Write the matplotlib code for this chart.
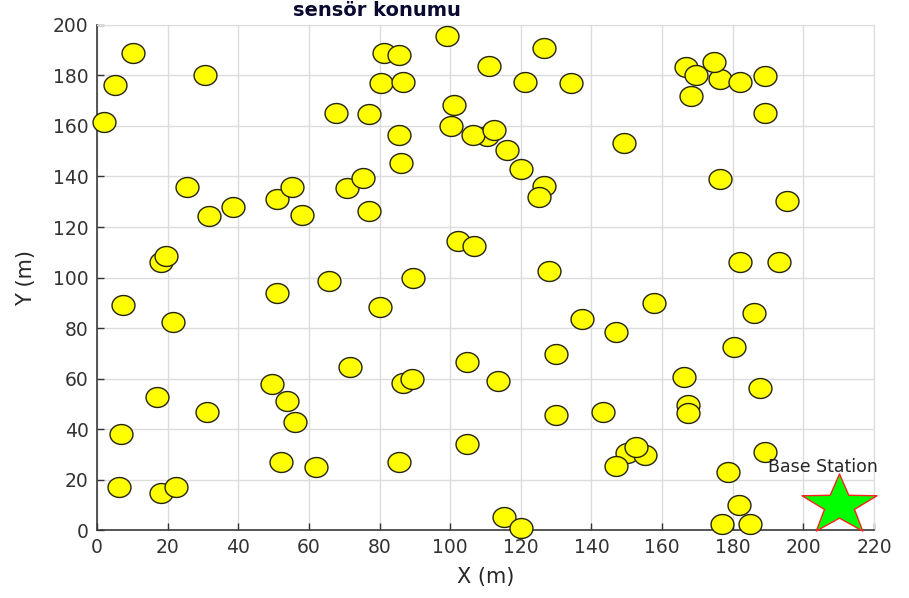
import numpy as np
import matplotlib
matplotlib.use('Agg')
import matplotlib.pyplot as plt
from matplotlib.path import Path

# sensor positions (m)
sensor_x = [2.1, 5.2, 10.3, 30.7, 25.6, 31.6, 38.6, 18.2, 19.4, 51.0,
            55.3, 58.0, 50.9, 65.6, 67.7, 70.7, 75.4, 76.9, 76.9, 81.4,
            85.6, 80.5, 86.6, 85.6, 86.0, 89.6, 99.2, 101.1, 100.3, 110.4,
            106.6, 112.5, 116.0, 120.0, 126.7, 125.1, 110.9, 121.1, 126.7, 134.3,
            149.1, 166.9, 169.6, 176.3, 174.8, 182.0, 189.1, 168.3, 189.1, 176.5,
            195.3, 102.3, 106.8, 128.1, 182.0, 193.1, 7.3, 21.4, 16.9, 31.2,
            6.7, 6.3, 18.0, 22.5, 80.0, 71.7, 49.5, 53.9, 56.1, 52.0,
            62.0, 85.6, 86.6, 89.1, 157.6, 137.3, 146.9, 185.9, 180.5, 104.9,
            113.4, 130.0, 166.3, 187.6, 130.0, 143.2, 167.2, 167.2, 104.9, 150.0,
            155.1, 152.5, 146.9, 189.1, 178.8, 181.9, 177.0, 185.0, 115.3, 120.0]
sensor_y = [161.6, 176.1, 189.0, 180.3, 136.0, 124.4, 127.8, 106.3, 108.6, 131.1,
            136.0, 124.8, 94.0, 98.6, 165.0, 135.3, 139.5, 164.6, 126.5, 189.0,
            188.1, 176.9, 177.4, 156.4, 145.2, 99.7, 195.6, 168.2, 160.0, 156.0,
            156.4, 158.4, 150.5, 142.8, 136.4, 131.8, 183.9, 177.4, 190.7, 176.9,
            153.4, 183.2, 180.1, 178.5, 185.2, 177.4, 179.8, 172.0, 165.0, 138.9,
            130.2, 114.6, 112.5, 102.7, 106.3, 106.3, 89.2, 82.2, 52.5, 46.6,
            38.0, 16.9, 14.5, 16.9, 88.2, 64.7, 57.7, 51.2, 42.6, 26.8,
            25.1, 26.8, 58.4, 59.7, 89.8, 83.4, 78.3, 85.8, 72.3, 66.7,
            59.0, 69.6, 60.7, 56.1, 45.4, 46.6, 49.5, 46.2, 34.1, 30.4,
            29.8, 33.0, 25.5, 30.9, 22.9, 9.9, 2.2, 2.2, 5.3, 0.7]

base_x = 210
base_y = 10
base_label = 'Base Station'
label_x = 190
label_y = 25

# the source picture is stretched sideways a bit, so the markers are too
t = np.linspace(0, 2 * np.pi, 64)
ellipse = Path(np.column_stack([1.15 * np.cos(t), np.sin(t)]), closed=True)
ang = np.pi / 2 + np.arange(10) * np.pi / 5
rad = np.where(np.arange(10) % 2 == 0, 1.0, 0.40)
star_verts = np.column_stack([1.25 * rad * np.cos(ang), rad * np.sin(ang)])
star = Path(np.vstack([star_verts, star_verts[:1]]), closed=True)

fig = plt.figure(figsize=(9.09, 5.98), dpi=100)
ax = fig.add_axes([0.1067, 0.1137, 0.8548, 0.8445])

ax.plot(sensor_x, sensor_y, linestyle='none', marker=ellipse, ms=16.5,
        mfc='#ffff00', mec='#262610', mew=1.0, clip_on=False, zorder=3)
ax.plot([base_x], [base_y], linestyle='none', marker=star, ms=54,
        mfc='#00ff00', mec='#ff2020', mew=1.0, clip_on=False, zorder=4)
ax.text(label_x, label_y, base_label, fontsize=12.5, color='#262626',
        va='center', ha='left', clip_on=False, zorder=5)

ax.set_xlim(0, 220)
ax.set_ylim(0, 200)
ax.set_xticks(np.arange(0, 221, 20))
ax.set_yticks(np.arange(0, 201, 20))
ax.grid(True, color='#dcdcdc', linewidth=1.0)
ax.set_axisbelow(True)
ax.tick_params(direction='in', labelsize=13.5, colors='#333333', length=5, width=1.0, pad=6)
for s in ['left', 'bottom']:
    ax.spines[s].set_color('#3a3a3a')
    ax.spines[s].set_linewidth(1.2)
for s in ['top', 'right']:
    ax.spines[s].set_color('#dcdcdc')

ax.set_xlabel('X (m)', fontsize=15, color='#262626', labelpad=7)
ax.set_ylabel('Y (m)', fontsize=15, color='#262626', labelpad=12)

fig.text(0.415, 0.982, 'sensör konumu', fontsize=14, fontweight='bold',
         color='#0a0a30', ha='center', va='center')

fig.savefig('out.png', dpi=100)
